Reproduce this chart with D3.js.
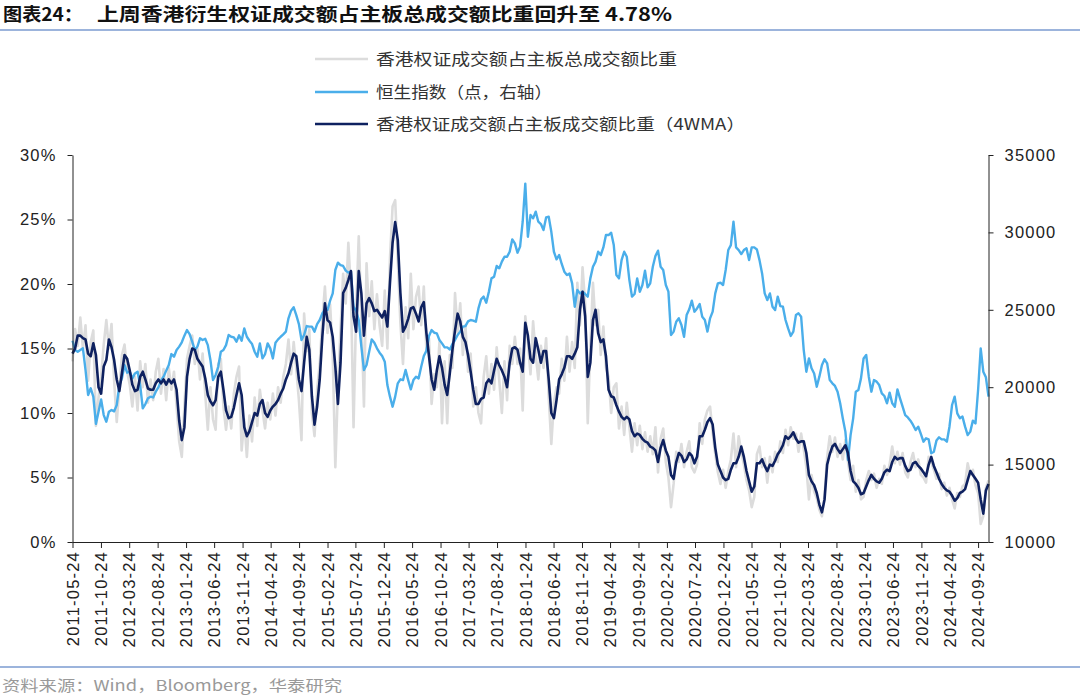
<!DOCTYPE html>
<html><head><meta charset="utf-8">
<script src="https://cdn.jsdelivr.net/npm/d3@7"></script>
<style>body{margin:0;background:#fff;}</style>
</head><body>
<script>
// ---------------- DATA ----------------
const startDate = "2011-05-24";   // first observation
const stepDays = 14;               // sampled every two weeks
const ratioRaw = [
14.0,16.5,15.2,17.4,15.0,16.8,12.5,15.5,16.4,9.0,
11.2,12.8,15.3,17.2,15.0,16.9,12.5,9.3,12.0,14.5,
15.3,13.2,12.2,10.5,12.8,10.2,14.0,12.0,13.8,10.8,
12.6,11.0,13.2,14.2,11.5,13.4,11.0,13.5,11.8,13.2,
10.5,7.8,6.6,10.5,14.2,15.2,16.0,13.8,15.0,12.6,
14.6,11.5,8.7,12.0,9.5,8.7,13.8,14.2,10.5,8.7,
10.5,8.8,11.5,12.8,13.6,7.1,9.5,6.6,9.8,7.8,
11.2,9.0,11.8,10.2,8.8,10.8,9.5,11.5,9.8,12.0,
10.8,12.8,13.8,15.7,13.0,15.5,13.4,11.0,7.9,17.7,
14.8,16.5,10.0,8.2,11.8,13.8,17.2,19.8,16.2,18.4,
14.5,5.8,12.0,16.5,20.8,18.5,23.2,19.5,8.9,18.0,
23.7,17.5,10.5,21.6,17.5,20.2,16.5,19.2,16.8,15.2,
19.5,15.0,22.0,26.0,26.5,21.8,17.0,13.8,18.2,15.8,
20.8,16.5,19.0,19.8,16.8,19.8,14.8,15.8,10.7,13.0,
12.0,15.5,9.2,14.0,9.2,14.5,13.5,19.3,16.2,18.5,
14.5,16.8,13.2,14.6,10.5,12.0,10.0,9.2,12.8,14.4,
11.5,13.8,11.8,15.1,12.5,10.0,14.0,11.0,15.2,13.8,
15.9,13.8,15.0,10.2,17.5,15.5,13.0,17.1,14.5,12.6,
15.2,13.5,15.8,11.2,7.6,10.8,12.0,11.5,14.2,12.5,
15.9,13.2,15.5,13.5,20.1,16.8,21.3,18.5,9.2,15.2,
20.1,16.8,18.0,14.5,16.7,13.5,12.8,10.0,12.0,12.3,
8.8,10.5,8.3,10.8,8.9,7.0,9.2,7.5,9.0,7.2,
8.5,7.0,8.2,6.8,8.9,5.4,8.0,8.8,6.2,5.0,
2.7,4.5,7.0,6.2,7.6,5.8,7.0,7.8,5.8,5.4,
6.0,9.2,7.6,9.5,10.2,10.5,8.5,6.8,5.4,4.5,
5.6,4.2,5.5,6.4,8.4,5.8,8.2,7.0,6.0,4.8,
4.0,2.7,3.5,6.8,7.4,5.8,6.5,4.6,6.6,5.4,
7.0,6.2,7.8,6.9,8.7,7.5,8.9,8.0,8.4,7.0,
8.4,7.2,5.8,3.3,5.2,3.9,3.4,2.5,2.0,3.6,
6.6,8.2,7.0,8.1,6.6,7.6,6.4,7.9,6.2,4.8,
5.9,3.9,4.8,3.3,3.5,4.8,5.5,4.8,5.3,4.2,
4.9,4.5,5.9,5.2,6.0,7.4,6.1,7.0,6.0,6.9,
5.4,5.0,6.2,6.9,5.8,6.4,5.2,5.0,4.6,6.6,
6.2,5.6,4.9,5.3,4.1,4.6,3.6,4.2,3.3,2.6,
3.8,3.5,4.3,4.5,6.1,5.2,5.6,4.4,3.8,1.4,
2.0,4.2,4.78];
const ratio4wma = [
14.6,15.0,16.0,16.0,15.8,15.7,14.6,14.4,15.4,14.5,
12.0,11.5,13.6,14.1,15.7,15.1,14.1,12.6,11.7,13.1,
14.5,14.2,13.3,12.2,11.7,11.8,12.8,13.2,12.6,11.9,
11.8,11.8,12.3,12.6,12.3,12.6,12.2,12.6,12.3,12.6,
11.8,9.4,7.9,8.9,12.8,14.2,15.0,14.9,14.2,13.9,
13.6,12.7,11.4,10.9,10.6,11.0,12.8,13.2,11.8,10.2,
9.6,9.7,10.4,11.4,12.3,11.4,8.9,8.2,8.6,9.3,
10.0,9.8,10.7,11.0,10.0,9.7,10.2,10.5,10.7,11.0,
11.5,11.9,12.6,13.1,13.9,14.6,14.4,12.6,11.7,13.9,
15.9,14.9,11.3,9.1,10.5,12.6,15.9,18.5,17.2,17.0,
15.9,13.6,10.7,13.9,19.3,19.7,20.3,21.0,17.5,16.3,
21.0,19.3,16.0,18.5,18.9,18.5,17.9,18.0,17.7,17.4,
17.9,16.7,20.1,23.2,24.8,23.4,19.3,16.3,16.7,17.3,
18.1,18.2,17.7,17.1,18.2,18.6,16.2,14.4,12.6,11.8,
13.3,14.4,13.5,12.2,11.4,13.1,14.9,16.4,17.7,17.1,
15.9,15.5,14.5,13.2,11.8,10.7,10.7,11.1,11.2,12.3,
12.6,12.3,13.3,14.2,13.7,13.3,12.8,12.0,13.9,15.0,
15.1,14.9,13.9,13.2,17.0,16.0,14.2,13.9,15.8,14.9,
13.9,14.8,14.8,12.6,10.0,9.6,11.0,12.6,13.0,13.5,
14.4,14.4,14.2,14.6,15.1,18.0,19.4,17.5,12.8,13.9,
17.2,18.0,16.2,15.5,15.7,14.4,11.8,11.3,11.2,10.6,
10.1,9.7,9.5,9.7,9.5,8.6,8.2,8.4,8.3,8.0,
7.8,7.7,7.4,7.3,7.1,6.2,7.3,7.9,7.1,6.6,
5.2,4.9,6.2,6.9,6.7,6.2,6.4,6.9,6.7,6.1,
6.6,8.2,8.2,8.7,9.3,9.6,9.1,7.3,6.0,5.5,
5.0,4.8,4.9,5.6,6.1,6.1,6.6,7.4,6.6,5.5,
4.7,3.9,4.3,6.1,6.1,6.4,5.9,5.5,6.0,5.9,
6.3,6.8,7.1,7.5,8.2,8.0,8.2,8.5,8.0,7.7,
7.8,7.8,6.9,5.2,4.7,4.4,3.8,2.9,2.3,3.3,
6.0,6.8,7.4,7.6,7.2,6.9,7.2,7.5,6.9,5.5,
4.7,4.5,4.2,3.7,3.8,4.3,4.8,5.2,4.9,4.7,
4.6,4.9,5.4,5.6,5.5,6.2,6.6,6.4,6.5,6.5,
5.9,5.5,5.6,6.1,6.2,5.9,5.7,5.4,5.1,6.0,
6.6,5.9,5.4,4.9,4.5,4.2,4.0,3.9,3.6,3.2,
3.4,3.8,3.9,4.1,4.8,5.5,5.2,4.9,4.6,3.3,
2.2,4.0,4.5];
const hsi = [
23000,22400,22290,22400,22510,21120,19500,19930,19390,17630,
18420,19210,18200,17770,18420,18530,18440,18850,20140,20570,
21430,20940,21000,20570,20890,21000,20140,18630,18910,19280,
19390,19340,19710,19990,20420,20680,21070,21430,22140,21970,
22400,22620,22900,23330,23690,23430,22940,22400,22620,23160,
23050,23130,22720,21760,20460,20790,21320,22290,22400,22720,
23370,23260,23220,22940,23350,23000,23800,23260,23000,22790,
22290,21970,22830,21860,22140,22830,22510,21860,22870,23090,
23260,23410,23590,24450,24940,25160,24660,24080,23050,23370,
23950,23910,23910,23590,24080,24340,24770,25030,24990,25590,
26060,27570,28040,27890,27830,27530,27400,27460,25200,24940,
24340,22620,21110,21430,22290,23090,22870,22510,22230,22010,
21650,20140,19390,18740,19390,20250,20510,20460,21110,20460,
19860,20460,20680,20570,21320,22010,22360,23310,23690,23520,
23480,23050,22830,22570,22570,22440,22790,23050,23370,23590,
23910,23950,24250,24340,24300,24230,25090,25670,25850,25460,
26170,27030,27140,27830,27680,28110,28430,28430,28750,29550,
29290,28690,29080,30690,33150,29720,31120,30910,31340,30690,
30540,30150,30970,31010,30040,28750,28260,28540,27960,27460,
27250,27350,26710,25200,26280,26060,26170,26020,25850,27030,
27780,28110,28750,28540,29030,29830,29830,29980,29180,27250,
27030,28210,28750,28430,26920,25850,26020,27030,26170,26600,
27530,26450,26710,27780,28470,28820,27780,27570,26600,26170,
23370,23590,24230,24450,24020,23260,24660,25030,25590,24880,
25090,25370,24550,24340,23590,24450,24880,26060,26710,26750,
26600,27570,28860,29180,30690,29030,28860,28600,28860,28970,
28210,29030,29030,28900,28210,27350,26060,25630,26060,25200,
24990,25850,25240,25200,24340,23800,23310,23590,24660,24770,
24550,22400,21000,21860,21220,20890,20030,20680,21430,21800,
21540,20460,20250,20080,19710,18960,17990,17130,15300,16900,
17990,19710,19820,20570,21860,22080,20680,19710,20460,20360,
20140,19600,19430,18960,19650,18960,18740,19860,19280,18740,
18200,18050,17840,17560,17230,17450,16980,16480,16700,16630,
15730,15830,16550,16760,16630,16630,16480,17450,18850,19390,
18310,17990,18100,17450,16910,17130,17840,17660,19820,22500,
21000,20640,19390];

const pctTicks = [0, 5, 10, 15, 20, 25, 30];
const hsiTicks = [10000, 15000, 20000, 25000, 30000, 35000];
const dateTicks = ["2011-05-24","2011-10-24","2012-03-24","2012-08-24","2013-01-24","2013-06-24",
"2013-11-24","2014-04-24","2014-09-24","2015-02-24","2015-07-24","2015-12-24","2016-05-24",
"2016-10-24","2017-03-24","2017-08-24","2018-01-24","2018-06-24","2018-11-24","2019-04-24",
"2019-09-24","2020-02-24","2020-07-24","2020-12-24","2021-05-24","2021-10-24","2022-03-24",
"2022-08-24","2023-01-24","2023-06-24","2023-11-24","2024-04-24","2024-09-24"];
const legendLabels = ["香港权证成交额占主板总成交额比重", "恒生指数（点，右轴）", "香港权证成交额占主板成交额比重（4WMA）"];
const titleLead = "图表24：";
const titleText = "上周香港衍生权证成交额占主板总成交额比重回升至 4.78%";
const sourceText = "资料来源：Wind，Bloomberg，华泰研究";

// ---------------- DRAW ----------------
const W = 1080, H = 698;
const L = 72.5, R = 988.5, T = 155, B = 542;
const cjk = "'Noto Sans CJK SC','Noto Sans',sans-serif";
const latin = "'Liberation Sans',Arial,sans-serif";
const COL_GRAY = "#dcdcdc", COL_BLUE = "#4aaeea", COL_DARK = "#0e2160";

const parse = d3.timeParse("%Y-%m-%d");
const t0 = parse(startDate);
const n = Math.min(ratioRaw.length, ratio4wma.length, hsi.length);
const dates = d3.range(n).map(i => d3.timeDay.offset(t0, stepDays * i));

const x = d3.scaleTime().domain([t0, dates[n - 1]]).range([L, R]);
const yL = d3.scaleLinear().domain([0, 30]).range([B, T]);
const yR = d3.scaleLinear().domain([10000, 35000]).range([B, T]);

const svg = d3.select("body").append("svg").attr("width", W).attr("height", H)
  .style("background", "#fff");

// title
svg.append("text").attr("x", 3).attr("y", 21).attr("font-family", cjk).attr("font-weight", 700)
  .attr("font-size", 18).attr("fill", "#111").attr("textLength", 80).attr("lengthAdjust", "spacingAndGlyphs")
  .text(titleLead);
svg.append("text").attr("x", 97).attr("y", 21).attr("font-family", cjk).attr("font-weight", 700)
  .attr("font-size", 18).attr("fill", "#111").attr("textLength", 575).attr("lengthAdjust", "spacingAndGlyphs")
  .text(titleText);
svg.append("line").attr("x1", 0).attr("x2", W).attr("y1", 30).attr("y2", 30)
  .attr("stroke", "#7b9bd0").attr("stroke-width", 1.5);

// bottom rule + source
svg.append("line").attr("x1", 0).attr("x2", W).attr("y1", 667).attr("y2", 667)
  .attr("stroke", "#7b9bd0").attr("stroke-width", 1.5);
svg.append("text").attr("x", 2).attr("y", 691).attr("font-family", cjk).attr("font-size", 15)
  .attr("fill", "#999").attr("textLength", 340).attr("lengthAdjust", "spacingAndGlyphs").text(sourceText);

// lines
const idx = d3.range(n);
const lineRaw = d3.line().x(i => x(dates[i])).y(i => yL(ratioRaw[i]));
const lineHsi = d3.line().x(i => x(dates[i])).y(i => yR(hsi[i]));
const lineMa = d3.line().x(i => x(dates[i])).y(i => yL(ratio4wma[i]));
const plot = svg.append("g");
plot.append("path").attr("d", lineRaw(idx)).attr("fill", "none").attr("stroke", COL_GRAY)
  .attr("stroke-width", 2.6).attr("stroke-linejoin", "round");
plot.append("path").attr("d", lineHsi(idx)).attr("fill", "none").attr("stroke", COL_BLUE)
  .attr("stroke-width", 2.4).attr("stroke-linejoin", "round");
plot.append("path").attr("d", lineMa(idx)).attr("fill", "none").attr("stroke", COL_DARK)
  .attr("stroke-width", 2.6).attr("stroke-linejoin", "round");

// axes
function styleAxis(g) {
  g.selectAll("path,line").attr("stroke", "#222").attr("stroke-width", 1);
  g.selectAll("text").attr("font-family", latin).attr("font-size", 16.5)
    .attr("letter-spacing", "1.2px").attr("fill", "#222");
}
svg.append("g").attr("transform", `translate(${L},0)`)
  .call(d3.axisLeft(yL).tickValues(pctTicks).tickFormat(d => d + "%").tickSize(5).tickSizeOuter(0).tickPadding(11))
  .call(styleAxis);
svg.append("g").attr("transform", `translate(${R},0)`)
  .call(d3.axisRight(yR).tickValues(hsiTicks).tickFormat(d => String(d)).tickSize(5).tickSizeOuter(0).tickPadding(11))
  .call(styleAxis);
const gx = svg.append("g").attr("transform", `translate(0,${B})`)
  .call(d3.axisBottom(x).tickValues(dateTicks.map(parse)).tickFormat(d3.timeFormat("%Y-%m-%d"))
    .tickSize(6).tickSizeOuter(0))
  .call(styleAxis);
gx.select(".domain").attr("d", `M${L},0.5H${R}`);
gx.selectAll(".tick text").attr("transform", "rotate(-90)").attr("text-anchor", "end")
  .attr("x", -9).attr("y", 0).attr("dy", "0.35em");

// legend
const legCols = [COL_GRAY, COL_BLUE, COL_DARK];
const legY = [59, 92, 124];
const legLen = [301, 176, 369];
legendLabels.forEach((lab, k) => {
  svg.append("line").attr("x1", 315).attr("x2", 368).attr("y1", legY[k]).attr("y2", legY[k])
    .attr("stroke", legCols[k]).attr("stroke-width", 2.6);
  svg.append("text").attr("x", 376).attr("y", legY[k] + 6).attr("font-family", cjk)
    .attr("font-size", 16).attr("fill", "#333").attr("textLength", legLen[k])
    .attr("lengthAdjust", "spacingAndGlyphs").text(lab);
});
</script>
</body></html>
